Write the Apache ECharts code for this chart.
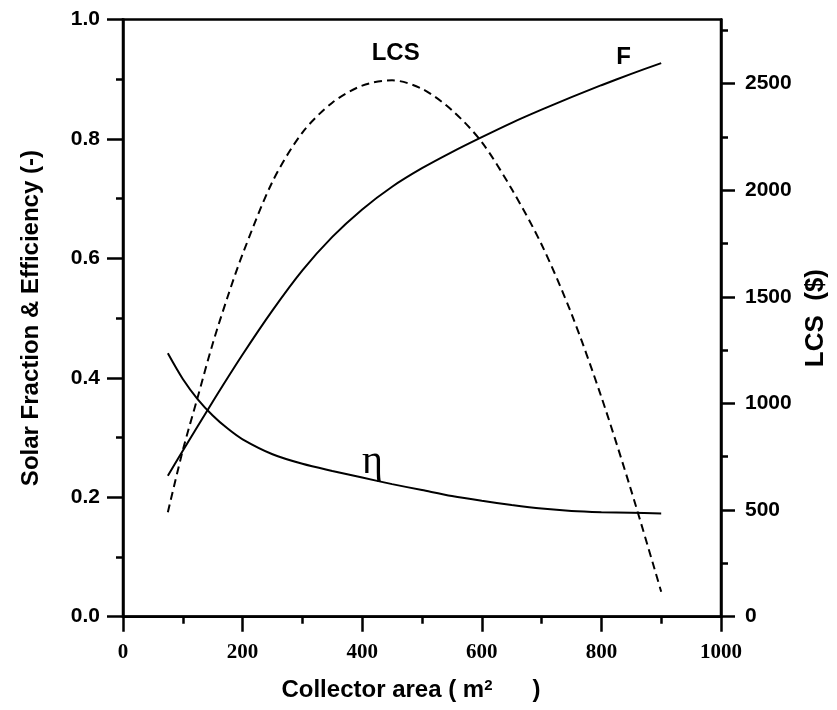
<!DOCTYPE html>
<html>
<head>
<meta charset="utf-8">
<script src="https://cdn.jsdelivr.net/npm/echarts@6/dist/echarts.min.js"></script>
<style>
  html, body { margin: 0; padding: 0; background: #fff; }
  #main { width: 837px; height: 710px; }
</style>
</head>
<body>
<div id="main"></div>
<script>
// collector area (m2)
var areaF = [75, 100, 150, 200, 250, 300, 350, 400, 450, 500, 550, 600, 650, 700, 750, 800, 850, 900];
// solar fraction F
var solarF = [0.236, 0.278, 0.36, 0.439, 0.513, 0.58, 0.636, 0.682, 0.72, 0.751, 0.778, 0.803, 0.827, 0.849, 0.87, 0.89, 0.909, 0.927];

var areaEta = [75, 100, 125, 150, 175, 200, 250, 300, 350, 400, 450, 500, 550, 600, 650, 700, 750, 800, 850, 900];
// efficiency
var eta = [0.441, 0.398, 0.364, 0.337, 0.315, 0.297, 0.272, 0.256, 0.244, 0.233, 0.222, 0.212, 0.202, 0.194, 0.187, 0.181, 0.177, 0.175, 0.174, 0.173];

var areaLcs = [75, 100, 125, 150, 175, 200, 250, 300, 350, 400, 450, 500, 550, 600, 650, 700, 750, 800, 850, 900];
// life cycle savings ($)
var lcs = [490, 780, 1030, 1280, 1500, 1700, 2040, 2270, 2410, 2490, 2515, 2475, 2375, 2225, 2005, 1745, 1420, 1030, 590, 117];

var lcsTicks = [0, 500, 1000, 1500, 2000, 2500];
var lcsMinor = [250, 750, 1250, 1750, 2250, 2750];

function pairs(xs, ys) {
  var out = [];
  for (var i = 0; i < xs.length; i++) out.push([xs[i], ys[i]]);
  return out;
}

var sans = 'Liberation Sans';
var serif = 'Liberation Serif';
var black = '#000';

// 文字标注
function tag(text, coord, font, size, bold) {
  return {
    symbol: 'circle', symbolSize: 0, itemStyle: { color: 'transparent' },
    label: {
      show: true, position: 'inside', formatter: text,
      fontFamily: font, fontSize: size, fontWeight: bold ? 'bold' : 'normal', color: black
    },
    data: [{ coord: coord, value: text }]
  };
}

var myChart = echarts.init(document.getElementById('main'));
var option = {
  backgroundColor: '#ffffff',
  animation: false,
  grid: {
    left: 123, right: 116, top: 19.5, bottom: 93.3,
    show: true, borderColor: black, borderWidth: 2.5
  },
  xAxis: {
    type: 'value', min: 0, max: 1000, interval: 200,
    name: '{a|Collector area ( m}{s|2}{a|      )}',
    nameLocation: 'middle', nameGap: 62,
    nameTextStyle: {
      padding: [0, 22, 0, 0],
      rich: {
        a: { fontFamily: sans, fontWeight: 'bold', fontSize: 24, color: black },
        s: { fontFamily: sans, fontWeight: 'bold', fontSize: 15, color: black, verticalAlign: 'top' }
      }
    },
    axisLine: { onZero: false, lineStyle: { color: black, width: 2.5 } },
    axisTick: { inside: false, length: 15, lineStyle: { color: black, width: 2.5 } },
    minorTick: { show: true, splitNumber: 2, length: 7, lineStyle: { color: black, width: 2.5 } },
    splitLine: { show: false },
    axisLabel: {
      margin: 25, fontFamily: serif, fontWeight: 'bold', fontSize: 21, color: black,
      formatter: function (v) { return String(v); }
    }
  },
  yAxis: [
    {
      type: 'value', min: 0, max: 1, interval: 0.2, position: 'left',
      name: 'Solar Fraction & Efficiency (-)',
      nameLocation: 'middle', nameRotate: 90, nameGap: 80,
      nameTextStyle: { fontFamily: sans, fontWeight: 'bold', fontSize: 24, color: black },
      axisLine: { show: true, lineStyle: { color: black, width: 2.5 } },
      axisTick: { show: true, inside: false, length: 16, lineStyle: { color: black, width: 2.5 } },
      minorTick: { show: true, splitNumber: 2, length: 7, lineStyle: { color: black, width: 2.5 } },
      splitLine: { show: false },
      axisLabel: {
        margin: 23, fontFamily: sans, fontWeight: 'bold', fontSize: 21, color: black,
        formatter: function (v) { return v.toFixed(1); }
      }
    },
    {
      type: 'value', min: 0, max: 2800, interval: 500, position: 'right',
      name: 'LCS  ($)',
      nameLocation: 'middle', nameRotate: 90, nameGap: 79,
      nameTextStyle: { fontFamily: sans, fontWeight: 'bold', fontSize: 26, color: black },
      axisLine: { show: true, lineStyle: { color: black, width: 2.5 } },
      axisTick: { show: true, inside: false, length: 14, customValues: lcsTicks, lineStyle: { color: black, width: 2.5 } },
      splitLine: { show: false },
      axisLabel: {
        margin: 24, customValues: lcsTicks, fontFamily: sans, fontWeight: 'bold', fontSize: 21, color: black,
        formatter: function (v) { return String(v); }
      }
    },
    {
      type: 'value', min: 0, max: 2800, position: 'right',
      axisLine: { show: false },
      axisTick: { show: true, inside: false, length: 7, customValues: lcsMinor, lineStyle: { color: black, width: 2.5 } },
      splitLine: { show: false },
      axisLabel: { show: false }
    }
  ],
  series: [
    {
      name: 'F', type: 'line', smooth: 0.3, showSymbol: false, yAxisIndex: 0,
      lineStyle: { color: black, width: 2 },
      data: pairs(areaF, solarF),
      markPoint: tag('F', [837, 0.9367], sans, 24, true)
    },
    {
      name: 'eta', type: 'line', smooth: 0.3, showSymbol: false, yAxisIndex: 0,
      lineStyle: { color: black, width: 2 },
      data: pairs(areaEta, eta),
      markPoint: tag('η', [417, 0.258], serif, 40, false)
    },
    {
      name: 'LCS', type: 'line', smooth: 0.3, showSymbol: false, yAxisIndex: 1,
      lineStyle: { color: black, width: 2, type: [8, 5] },
      data: pairs(areaLcs, lcs),
      markPoint: tag('LCS', [456, 2640], sans, 24, true)
    }
  ]
};
myChart.setOption(option);
</script>
</body>
</html>
